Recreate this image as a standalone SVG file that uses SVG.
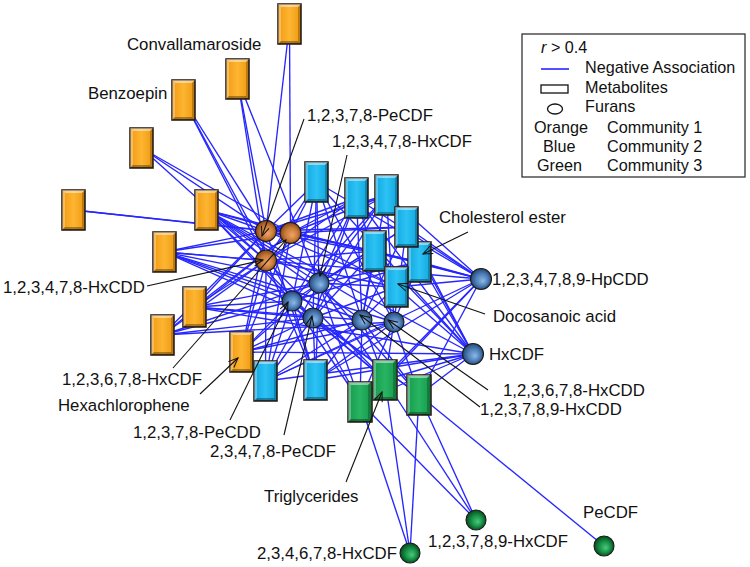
<svg xmlns="http://www.w3.org/2000/svg" xmlns:xlink="http://www.w3.org/1999/xlink" width="750" height="567" viewBox="0 0 750 567">
<style>
.t{font-family:"Liberation Sans",Arial,sans-serif;font-size:16.8px;fill:#111}
.lg{font-family:"Liberation Sans",Arial,sans-serif;font-size:16.2px;fill:#111}
.e line{stroke:#2626ff;stroke-width:1.35}
.ld line{stroke:#111;stroke-width:1.1}
.arr{marker-end:url(#ah)}
.mr{stroke:#2b2118;stroke-width:1.6}
.or{fill:url(#gOr)}
.bl{fill:url(#gBl)}
.gr{fill:url(#gGr)}
.fc{stroke:#1a1a1a;stroke-width:1.1}
.co{fill:url(#rOr)}
.cb{fill:url(#rBl)}
.cg{fill:url(#rGr)}
</style>
<defs>
<linearGradient id="gOr" x1="0" x2="1" y1="0" y2="0"><stop offset="0" stop-color="#f29a12"/><stop offset="0.5" stop-color="#fdb531"/><stop offset="1" stop-color="#ee9810"/></linearGradient>
<linearGradient id="gBl" x1="0" x2="1" y1="0" y2="0"><stop offset="0" stop-color="#12a8e0"/><stop offset="0.5" stop-color="#2cc2f4"/><stop offset="1" stop-color="#12a6de"/></linearGradient>
<linearGradient id="gGr" x1="0" x2="1" y1="0" y2="0"><stop offset="0" stop-color="#169a4e"/><stop offset="0.5" stop-color="#28b462"/><stop offset="1" stop-color="#15984c"/></linearGradient>
<radialGradient id="rOr" cx="0.5" cy="0.5" r="0.55" fx="0.6" fy="0.62"><stop offset="0" stop-color="#eea468"/><stop offset="0.55" stop-color="#c97a38"/><stop offset="1" stop-color="#7a3c12"/></radialGradient>
<radialGradient id="rBl" cx="0.5" cy="0.5" r="0.55" fx="0.6" fy="0.6"><stop offset="0" stop-color="#8fb8e4"/><stop offset="0.55" stop-color="#4a7cb6"/><stop offset="1" stop-color="#1f3a62"/></radialGradient>
<radialGradient id="rGr" cx="0.5" cy="0.5" r="0.55" fx="0.6" fy="0.6"><stop offset="0" stop-color="#4cc880"/><stop offset="0.55" stop-color="#128c40"/><stop offset="1" stop-color="#083a1a"/></radialGradient>
<g id="bev">
<polygon points="0,0 23,0 20,3 3,3" fill="#fff" fill-opacity="0.45"/>
<polygon points="0,0 3,3 3,37 0,40" fill="#fff" fill-opacity="0.3"/>
<polygon points="23,0 23,40 20,37 20,3" fill="#000" fill-opacity="0.22"/>
<polygon points="0,40 3,37 20,37 23,40" fill="#000" fill-opacity="0.32"/>
</g>
<marker id="ah" markerUnits="userSpaceOnUse" markerWidth="12" markerHeight="12" viewBox="0 0 12 10" refX="10.5" refY="5" orient="auto"><path d="M1,1 L10.5,5 L1,9" fill="none" stroke="#111" stroke-width="1"/></marker>
</defs>
<rect width="750" height="567" fill="#fff"/>

<g id="edges" class="e">
<!-- O1 266,231 -->
<line x1="266" y1="231" x2="289.5" y2="24"/><line x1="266" y1="231" x2="237.5" y2="79"/><line x1="266" y1="231" x2="183.5" y2="100"/><line x1="266" y1="231" x2="141.5" y2="148"/><line x1="266" y1="231" x2="73.5" y2="210"/><line x1="266" y1="231" x2="206.5" y2="210"/><line x1="266" y1="231" x2="164.5" y2="252"/><line x1="266" y1="231" x2="194.5" y2="307"/><line x1="266" y1="231" x2="162.5" y2="335"/><line x1="266" y1="231" x2="241.5" y2="352"/><line x1="266" y1="231" x2="316.5" y2="182"/><line x1="266" y1="231" x2="356.5" y2="198"/><line x1="266" y1="231" x2="386.5" y2="195"/><line x1="266" y1="231" x2="406.5" y2="227"/><line x1="266" y1="231" x2="419.5" y2="262"/><line x1="266" y1="231" x2="396.5" y2="287"/><line x1="266" y1="231" x2="315.5" y2="380"/>
<!-- O2 290.5,233 -->
<line x1="290.5" y1="233" x2="289.5" y2="24"/><line x1="290.5" y1="233" x2="141.5" y2="148"/><line x1="290.5" y1="233" x2="73.5" y2="210"/><line x1="290.5" y1="233" x2="206.5" y2="210"/><line x1="290.5" y1="233" x2="164.5" y2="252"/><line x1="290.5" y1="233" x2="194.5" y2="307"/><line x1="290.5" y1="233" x2="162.5" y2="335"/><line x1="290.5" y1="233" x2="241.5" y2="352"/><line x1="290.5" y1="233" x2="316.5" y2="182"/><line x1="290.5" y1="233" x2="356.5" y2="198"/><line x1="290.5" y1="233" x2="386.5" y2="195"/><line x1="290.5" y1="233" x2="406.5" y2="227"/><line x1="290.5" y1="233" x2="374.5" y2="251"/><line x1="290.5" y1="233" x2="419.5" y2="262"/><line x1="290.5" y1="233" x2="396.5" y2="287"/><line x1="290.5" y1="233" x2="265.5" y2="381"/>
<!-- O3 266,260.5 -->
<line x1="266" y1="260.5" x2="237.5" y2="79"/><line x1="266" y1="260.5" x2="183.5" y2="100"/><line x1="266" y1="260.5" x2="141.5" y2="148"/><line x1="266" y1="260.5" x2="206.5" y2="210"/><line x1="266" y1="260.5" x2="164.5" y2="252"/><line x1="266" y1="260.5" x2="194.5" y2="307"/><line x1="266" y1="260.5" x2="162.5" y2="335"/><line x1="266" y1="260.5" x2="241.5" y2="352"/><line x1="266" y1="260.5" x2="316.5" y2="182"/><line x1="266" y1="260.5" x2="356.5" y2="198"/><line x1="266" y1="260.5" x2="386.5" y2="195"/><line x1="266" y1="260.5" x2="374.5" y2="251"/><line x1="266" y1="260.5" x2="396.5" y2="287"/><line x1="266" y1="260.5" x2="265.5" y2="381"/><line x1="266" y1="260.5" x2="315.5" y2="380"/><line x1="266" y1="260.5" x2="385" y2="380"/>
<!-- C1 319,283 -->
<line x1="319" y1="283" x2="237.5" y2="79"/><line x1="319" y1="283" x2="206.5" y2="210"/><line x1="319" y1="283" x2="164.5" y2="252"/><line x1="319" y1="283" x2="194.5" y2="307"/><line x1="319" y1="283" x2="162.5" y2="335"/><line x1="319" y1="283" x2="241.5" y2="352"/><line x1="319" y1="283" x2="316.5" y2="182"/><line x1="319" y1="283" x2="356.5" y2="198"/><line x1="319" y1="283" x2="386.5" y2="195"/><line x1="319" y1="283" x2="406.5" y2="227"/><line x1="319" y1="283" x2="374.5" y2="251"/><line x1="319" y1="283" x2="419.5" y2="262"/><line x1="319" y1="283" x2="396.5" y2="287"/><line x1="319" y1="283" x2="265.5" y2="381"/><line x1="319" y1="283" x2="315.5" y2="380"/><line x1="319" y1="283" x2="360" y2="402"/><line x1="319" y1="283" x2="385" y2="380"/><line x1="319" y1="283" x2="419" y2="395"/>
<!-- C2 292,301 -->
<line x1="292" y1="301" x2="183.5" y2="100"/><line x1="292" y1="301" x2="206.5" y2="210"/><line x1="292" y1="301" x2="164.5" y2="252"/><line x1="292" y1="301" x2="194.5" y2="307"/><line x1="292" y1="301" x2="162.5" y2="335"/><line x1="292" y1="301" x2="241.5" y2="352"/><line x1="292" y1="301" x2="316.5" y2="182"/><line x1="292" y1="301" x2="356.5" y2="198"/><line x1="292" y1="301" x2="386.5" y2="195"/><line x1="292" y1="301" x2="406.5" y2="227"/><line x1="292" y1="301" x2="419.5" y2="262"/><line x1="292" y1="301" x2="265.5" y2="381"/><line x1="292" y1="301" x2="315.5" y2="380"/><line x1="292" y1="301" x2="360" y2="402"/><line x1="292" y1="301" x2="385" y2="380"/><line x1="292" y1="301" x2="419" y2="395"/>
<!-- C3 313,318 -->
<line x1="313" y1="318" x2="206.5" y2="210"/><line x1="313" y1="318" x2="164.5" y2="252"/><line x1="313" y1="318" x2="194.5" y2="307"/><line x1="313" y1="318" x2="162.5" y2="335"/><line x1="313" y1="318" x2="241.5" y2="352"/><line x1="313" y1="318" x2="316.5" y2="182"/><line x1="313" y1="318" x2="356.5" y2="198"/><line x1="313" y1="318" x2="386.5" y2="195"/><line x1="313" y1="318" x2="374.5" y2="251"/><line x1="313" y1="318" x2="396.5" y2="287"/><line x1="313" y1="318" x2="265.5" y2="381"/><line x1="313" y1="318" x2="315.5" y2="380"/><line x1="313" y1="318" x2="360" y2="402"/><line x1="313" y1="318" x2="385" y2="380"/><line x1="313" y1="318" x2="419" y2="395"/>
<!-- C4 362,320 -->
<line x1="362" y1="320" x2="206.5" y2="210"/><line x1="362" y1="320" x2="164.5" y2="252"/><line x1="362" y1="320" x2="194.5" y2="307"/><line x1="362" y1="320" x2="241.5" y2="352"/><line x1="362" y1="320" x2="316.5" y2="182"/><line x1="362" y1="320" x2="356.5" y2="198"/><line x1="362" y1="320" x2="386.5" y2="195"/><line x1="362" y1="320" x2="406.5" y2="227"/><line x1="362" y1="320" x2="374.5" y2="251"/><line x1="362" y1="320" x2="419.5" y2="262"/><line x1="362" y1="320" x2="265.5" y2="381"/><line x1="362" y1="320" x2="315.5" y2="380"/><line x1="362" y1="320" x2="360" y2="402"/><line x1="362" y1="320" x2="385" y2="380"/><line x1="362" y1="320" x2="419" y2="395"/>
<!-- C5 394,322 -->
<line x1="394" y1="322" x2="206.5" y2="210"/><line x1="394" y1="322" x2="164.5" y2="252"/><line x1="394" y1="322" x2="162.5" y2="335"/><line x1="394" y1="322" x2="241.5" y2="352"/><line x1="394" y1="322" x2="316.5" y2="182"/><line x1="394" y1="322" x2="356.5" y2="198"/><line x1="394" y1="322" x2="386.5" y2="195"/><line x1="394" y1="322" x2="406.5" y2="227"/><line x1="394" y1="322" x2="419.5" y2="262"/><line x1="394" y1="322" x2="265.5" y2="381"/><line x1="394" y1="322" x2="315.5" y2="380"/><line x1="394" y1="322" x2="360" y2="402"/><line x1="394" y1="322" x2="385" y2="380"/><line x1="394" y1="322" x2="419" y2="395"/>
<!-- HpCDD 481,279 -->
<line x1="481" y1="279" x2="206.5" y2="210"/><line x1="481" y1="279" x2="164.5" y2="252"/><line x1="481" y1="279" x2="316.5" y2="182"/><line x1="481" y1="279" x2="356.5" y2="198"/><line x1="481" y1="279" x2="386.5" y2="195"/><line x1="481" y1="279" x2="406.5" y2="227"/><line x1="481" y1="279" x2="374.5" y2="251"/><line x1="481" y1="279" x2="419.5" y2="262"/><line x1="481" y1="279" x2="396.5" y2="287"/><line x1="481" y1="279" x2="265.5" y2="381"/><line x1="481" y1="279" x2="315.5" y2="380"/><line x1="481" y1="279" x2="360" y2="402"/><line x1="481" y1="279" x2="385" y2="380"/><line x1="481" y1="279" x2="419" y2="395"/>
<!-- HxCDF 473,354 -->
<line x1="473" y1="354" x2="206.5" y2="210"/><line x1="473" y1="354" x2="194.5" y2="307"/><line x1="473" y1="354" x2="241.5" y2="352"/><line x1="473" y1="354" x2="316.5" y2="182"/><line x1="473" y1="354" x2="356.5" y2="198"/><line x1="473" y1="354" x2="386.5" y2="195"/><line x1="473" y1="354" x2="406.5" y2="227"/><line x1="473" y1="354" x2="374.5" y2="251"/><line x1="473" y1="354" x2="419.5" y2="262"/><line x1="473" y1="354" x2="396.5" y2="287"/><line x1="473" y1="354" x2="265.5" y2="381"/><line x1="473" y1="354" x2="315.5" y2="380"/><line x1="473" y1="354" x2="360" y2="402"/><line x1="473" y1="354" x2="385" y2="380"/><line x1="473" y1="354" x2="419" y2="395"/>
<!-- green furans -->
<line x1="410" y1="553" x2="360" y2="402"/><line x1="410" y1="553" x2="385" y2="380"/><line x1="410" y1="553" x2="419" y2="395"/>
<line x1="476" y1="520" x2="360" y2="402"/><line x1="476" y1="520" x2="385" y2="380"/><line x1="476" y1="520" x2="419" y2="395"/>
<line x1="604" y1="546" x2="419" y2="395"/>
</g>

<g id="metabolites">
<g id="m-o1" transform="translate(278,4)"><rect class="or mr" width="23" height="40"/><use xlink:href="#bev"/></g>
<g id="m-convallamaroside" transform="translate(226,59)"><rect class="or mr" width="23" height="40"/><use xlink:href="#bev"/></g>
<g id="m-benzoepin" transform="translate(172,80)"><rect class="or mr" width="23" height="40"/><use xlink:href="#bev"/></g>
<g id="m-o4" transform="translate(130,128)"><rect class="or mr" width="23" height="40"/><use xlink:href="#bev"/></g>
<g id="m-o5" transform="translate(62,190)"><rect class="or mr" width="23" height="40"/><use xlink:href="#bev"/></g>
<g id="m-o6" transform="translate(195,190)"><rect class="or mr" width="23" height="40"/><use xlink:href="#bev"/></g>
<g id="m-o7" transform="translate(153,232)"><rect class="or mr" width="23" height="40"/><use xlink:href="#bev"/></g>
<g id="m-o8" transform="translate(183,287)"><rect class="or mr" width="23" height="40"/><use xlink:href="#bev"/></g>
<g id="m-o9" transform="translate(151,315)"><rect class="or mr" width="23" height="40"/><use xlink:href="#bev"/></g>
<g id="m-hexachlorophene" transform="translate(230,332)"><rect class="or mr" width="23" height="40"/><use xlink:href="#bev"/></g>
<g id="m-b1" transform="translate(305,162)"><rect class="bl mr" width="23" height="40"/><use xlink:href="#bev"/></g>
<g id="m-b2" transform="translate(345,178)"><rect class="bl mr" width="23" height="40"/><use xlink:href="#bev"/></g>
<g id="m-b3" transform="translate(375,175)"><rect class="bl mr" width="23" height="40"/><use xlink:href="#bev"/></g>
<g id="m-b5" transform="translate(363,231)"><rect class="bl mr" width="23" height="40"/><use xlink:href="#bev"/></g>
<g id="m-cholesterol-ester" transform="translate(408,242)"><rect class="bl mr" width="23" height="40"/><use xlink:href="#bev"/></g>
<g id="m-b4" transform="translate(395,207)"><rect class="bl mr" width="23" height="40"/><use xlink:href="#bev"/></g>
<g id="m-docosanoic-acid" transform="translate(385,267)"><rect class="bl mr" width="23" height="40"/><use xlink:href="#bev"/></g>
<g id="m-b8" transform="translate(254,361)"><rect class="bl mr" width="23" height="40"/><use xlink:href="#bev"/></g>
<g id="m-b9" transform="translate(304,360)"><rect class="bl mr" width="23" height="40"/><use xlink:href="#bev"/></g>
<g id="m-g1" transform="translate(348,382)"><rect class="gr mr" width="24" height="40"/><use xlink:href="#bev"/></g>
<g id="m-triglycerides" transform="translate(373,360)"><rect class="gr mr" width="24" height="40"/><use xlink:href="#bev"/></g>
<g id="m-g3" transform="translate(407,375)"><rect class="gr mr" width="24" height="40"/><use xlink:href="#bev"/></g>
</g>

<g id="furans">
<g id="f-12378-pecdf"><circle class="co fc" cx="266" cy="231" r="10.5"/></g>
<g id="f-123678-hxcdf"><circle class="co fc" cx="290.5" cy="233" r="10.5"/></g>
<g id="f-123478-hxcdd"><circle class="co fc" cx="266" cy="260.5" r="10.5"/></g>
<g id="f-123478-hxcdf"><circle class="cb fc" cx="319" cy="283" r="10"/></g>
<g id="f-12378-pecdd"><circle class="cb fc" cx="292" cy="301" r="10"/></g>
<g id="f-23478-pecdf"><circle class="cb fc" cx="313" cy="318" r="10"/></g>
<g id="f-123789-hxcdd"><circle class="cb fc" cx="362" cy="320" r="10"/></g>
<g id="f-123678-hxcdd"><circle class="cb fc" cx="394" cy="322" r="10"/></g>
<g id="f-hpcdd"><circle class="cb fc" cx="481" cy="279" r="10.5"/></g>
<g id="f-hxcdf"><circle class="cb fc" cx="473" cy="354" r="10.5"/></g>
<g id="f-234678-hxcdf"><circle class="cg fc" cx="410" cy="553" r="10"/></g>
<g id="f-123789-hxcdf"><circle class="cg fc" cx="476" cy="520" r="10"/></g>
<g id="f-pecdf"><circle class="cg fc" cx="604" cy="546" r="10"/></g>
</g>

<g id="leaders" class="ld">
<line class="arr" x1="304" y1="119" x2="262" y2="236"/>
<line class="arr" x1="347" y1="155" x2="320" y2="276"/>
<line class="arr" x1="468" y1="232" x2="423" y2="254"/>
<line class="arr" x1="485" y1="314" x2="398" y2="284"/>
<line class="arr" x1="488" y1="390" x2="388" y2="320"/>
<line class="arr" x1="480" y1="407" x2="360" y2="315"/>
<line class="arr" x1="346" y1="482" x2="382" y2="392"/>
<line class="arr" x1="284" y1="435" x2="312" y2="316"/>
<line class="arr" x1="230" y1="420" x2="288" y2="302"/>
<line class="arr" x1="200" y1="394" x2="238" y2="358"/>
<line class="arr" x1="173" y1="368" x2="286" y2="240"/>
<line class="arr" x1="147" y1="286" x2="263" y2="260"/>
</g>

<g id="labels" class="t">
<text x="127" y="50">Convallamaroside</text>
<text x="88" y="99">Benzoepin</text>
<text x="307" y="121">1,2,3,7,8-PeCDF</text>
<text x="332" y="147">1,2,3,4,7,8-HxCDF</text>
<text x="439" y="223">Cholesterol ester</text>
<text x="492" y="285">1,2,3,4,7,8,9-HpCDD</text>
<text x="493" y="322">Docosanoic acid</text>
<text x="489" y="360">HxCDF</text>
<text x="503" y="396">1,2,3,6,7,8-HxCDD</text>
<text x="480" y="415">1,2,3,7,8,9-HxCDD</text>
<text x="583" y="518">PeCDF</text>
<text x="428" y="547">1,2,3,7,8,9-HxCDF</text>
<text x="257" y="559">2,3,4,6,7,8-HxCDF</text>
<text x="264" y="502">Triglycerides</text>
<text x="210" y="457">2,3,4,7,8-PeCDF</text>
<text x="133" y="438">1,2,3,7,8-PeCDD</text>
<text x="58" y="411">Hexachlorophene</text>
<text x="62" y="385">1,2,3,6,7,8-HxCDF</text>
<text x="3" y="293">1,2,3,4,7,8-HxCDD</text>
</g>

<g id="legend">
<rect x="522" y="34" width="223" height="143" fill="#fff" stroke="#333" stroke-width="1.3"/>
<text class="lg" x="541" y="53"><tspan font-style="italic">r</tspan> &gt; 0.4</text>
<line x1="541" y1="69" x2="569" y2="69" stroke="#2626ff" stroke-width="1.6"/>
<text class="lg" x="585" y="73">Negative Association</text>
<rect x="541" y="85" width="27" height="8" fill="#fff" stroke="#111" stroke-width="1.3"/>
<text class="lg" x="585" y="93">Metabolites</text>
<ellipse cx="555" cy="109" rx="7.5" ry="5" fill="#fff" stroke="#111" stroke-width="1.3"/>
<text class="lg" x="585" y="112">Furans</text>
<text class="lg" x="534" y="133">Orange</text>
<text class="lg" x="607" y="133">Community 1</text>
<text class="lg" x="543" y="151.5">Blue</text>
<text class="lg" x="607" y="151.5">Community 2</text>
<text class="lg" x="537" y="171">Green</text>
<text class="lg" x="607" y="171">Community 3</text>
</g>
</svg>
